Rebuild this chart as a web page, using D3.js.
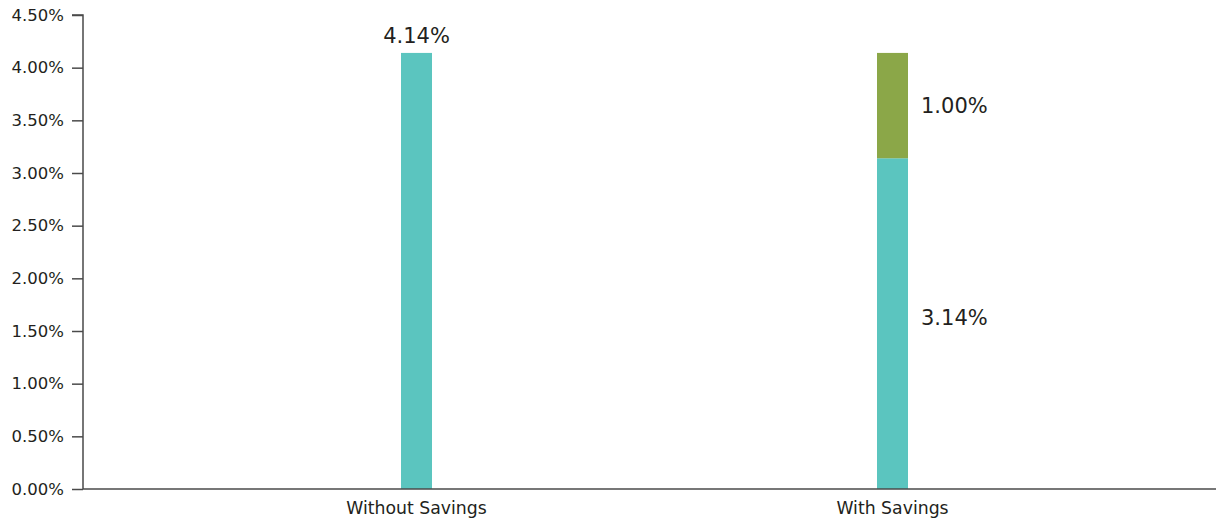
<!DOCTYPE html>
<html>
<head>
<meta charset="utf-8">
<script src="https://cdn.jsdelivr.net/npm/d3@7"></script>
<style>
  html, body { margin: 0; padding: 0; background: #ffffff; }
  svg { display: block; font-family: "DejaVu Sans", sans-serif; }
</style>
</head>
<body>
<svg id="chart" width="1217" height="525"></svg>
<script>
// Categories and stacked series (percent values)
const categories = ["Without Savings", "With Savings"];
const baseRate = [4.14, 3.14];     // teal segment
const savings = [0.00, 1.00];      // green segment on top
const yTicks = [0, 0.5, 1, 1.5, 2, 2.5, 3, 3.5, 4, 4.5];

const svg = d3.select("#chart");
const axisLeft = 83, axisRight = 1216, axisBottom = 489, axisTop = 15;
const textColor = "#231f20";
const lineColor = "#4a4a4a";
const teal = "#5bc5bf", green = "#8ba748";

const y = d3.scaleLinear().domain([0, 4.5]).range([axisBottom, axisTop]);
const x = d3.scaleBand().domain(categories).range([178.5, 1130.5]).padding(0);
const barW = 31;

// Y axis
const gy = svg.append("g").attr("transform", `translate(${axisLeft},0)`)
  .call(d3.axisLeft(y).tickValues(yTicks).tickSize(11).tickPadding(8)
    .tickFormat(d => d3.format(".2f")(d) + "%"));
gy.select(".domain").attr("stroke", lineColor).attr("stroke-width", 1.5)
  .attr("d", `M-11,${y(4.5)}H0V${axisBottom}`);
gy.selectAll(".tick line").attr("stroke", lineColor).attr("stroke-width", 1.5);
gy.selectAll(".tick text").attr("fill", textColor).style("font-size", "16.5px")
  .style("font-family", "DejaVu Sans");

// Bars
const rows = categories.map((c, i) => ({ cat: c, base: baseRate[i], extra: savings[i] }));
const bars = svg.append("g");
bars.selectAll("rect.base").data(rows).join("rect").attr("class", "base")
  .attr("x", d => x(d.cat) + x.bandwidth() / 2 - barW / 2)
  .attr("width", barW)
  .attr("y", d => y(d.base))
  .attr("height", d => y(0) - y(d.base))
  .attr("fill", teal);
bars.selectAll("rect.extra").data(rows.filter(d => d.extra > 0)).join("rect").attr("class", "extra")
  .attr("x", d => x(d.cat) + x.bandwidth() / 2 - barW / 2)
  .attr("width", barW)
  .attr("y", d => y(d.base + d.extra))
  .attr("height", d => y(d.base) - y(d.base + d.extra))
  .attr("fill", green);

// X axis line and category labels
svg.append("line").attr("x1", axisLeft).attr("x2", axisRight)
  .attr("y1", axisBottom).attr("y2", axisBottom)
  .attr("stroke", lineColor).attr("stroke-width", 1.5);
const gx = svg.append("g").attr("transform", `translate(0,${axisBottom})`)
  .call(d3.axisBottom(x).tickSize(0).tickPadding(13));
gx.select(".domain").remove();
gx.selectAll(".tick text").attr("fill", textColor).style("font-size", "17.3px")
  .style("font-family", "DejaVu Sans");

// Value labels
const fmt = d => d3.format(".2f")(d) + "%";
const labels = svg.append("g").style("font-size", "21px").attr("fill", textColor);
// total above the single bar
rows.filter(d => d.extra === 0).forEach(d => {
  labels.append("text")
    .attr("x", x(d.cat) + x.bandwidth() / 2)
    .attr("y", y(d.base) - 10)
    .attr("text-anchor", "middle")
    .text(fmt(d.base));
});
// segment labels to the right of the stacked bar
rows.filter(d => d.extra > 0).forEach(d => {
  const lx = x(d.cat) + x.bandwidth() / 2 + barW / 2 + 13;
  labels.append("text").attr("x", lx)
    .attr("y", (y(d.base) + y(d.base + d.extra)) / 2)
    .attr("dy", "0.36em").text(fmt(d.extra));
  labels.append("text").attr("x", lx)
    .attr("y", (y(0) + y(d.base)) / 2 - 6)
    .attr("dy", "0.36em").text(fmt(d.base));
});
</script>
</body>
</html>
